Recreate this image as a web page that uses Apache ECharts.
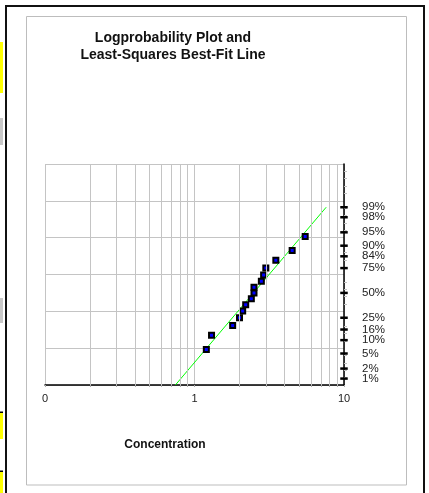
<!DOCTYPE html>
<html>
<head>
<meta charset="utf-8">
<style>html,body{margin:0;padding:0;background:#fff;}#c{width:429px;height:493px;}</style>
<script src="https://cdn.jsdelivr.net/npm/echarts@6/dist/echarts.min.js"></script>
</head>
<body>
<div id="c"></div>
<script>
// Data
const concentration = [1.2, 1.3, 1.8, 2.0, 2.1, 2.2, 2.4, 2.5, 2.5, 2.8, 2.9, 3.0, 3.5, 4.5, 5.5];
const zScore = [-1.534, -1.150, -0.887, -0.674, -0.489, -0.319, -0.157, 0, 0.157, 0.319, 0.489, 0.674, 0.887, 1.150, 1.534];
const fitLineX = [0.745, 7.6];
const fitLineZ = [-2.5, 2.326];
const probLabels = ['1%', '2%', '5%', '10%', '16%', '25%', '50%', '75%', '84%', '90%', '95%', '98%', '99%'];
const probZ = [-2.326, -2.054, -1.645, -1.282, -0.994, -0.674, 0, 0.674, 0.994, 1.282, 1.645, 2.054, 2.326];
const xTickValues = [0.1, 1, 10];
const xTickLabels = ['0', '1', '10'];
const xMinorValues = [0.2, 0.3, 0.4, 0.5, 0.6, 0.7, 0.8, 0.9, 2, 3, 4, 5, 6, 7, 8, 9];

const FONT = '"Liberation Sans", Arial, sans-serif';
const chart = echarts.init(document.getElementById('c'), null, {renderer: 'canvas'});

function probLabel(v) {
  let best = 0, d = Infinity;
  probZ.forEach((z, i) => { const e = Math.abs(z - v); if (e < d) { d = e; best = i; } });
  return probLabels[best];
}
// Labels split over two overlaid right axes so that close neighbours (1%/2%, 98%/99%) are both kept
const labelSetA = probZ.filter((z, i) => i % 2 === 0);
const labelSetB = probZ.filter((z, i) => i % 2 === 1);

const yLabelBase = {margin: 18, color: '#222', fontFamily: FONT, fontSize: 11.5,
  hideOverlap: false, showMinLabel: true, showMaxLabel: true, formatter: probLabel};

const option = {
  animation: false,
  backgroundColor: '#fff',
  grid: {left: 45, right: 85, top: 164, bottom: 108, containLabel: false},
  xAxis: {
    type: 'log', logBase: 10, min: 0.1, max: 10,
    axisLine: {show: true, onZero: false, lineStyle: {color: '#000', width: 1.5}},
    axisTick: {show: true, length: 2, customValues: xTickValues.concat(xMinorValues), lineStyle: {color: '#aaa'}},
    axisLabel: {
      customValues: xTickValues, margin: 8, color: '#222', fontFamily: FONT, fontSize: 11,
      hideOverlap: false, showMinLabel: true, showMaxLabel: true,
      formatter: function (v) { const i = xTickValues.findIndex(t => Math.abs(t - v) < 1e-9); return i >= 0 ? xTickLabels[i] : ''; }
    },
    splitLine: {show: true, lineStyle: {color: '#c4c4c4', width: 1}},
    minorTick: {show: false}, minorSplitLine: {show: false}
  },
  yAxis: [
    {
      type: 'value', position: 'right', min: -2.5, max: 3.5, interval: 1,
      axisLine: {show: true, lineStyle: {color: '#000', width: 1.5}},
      axisTick: {show: false},
      minorTick: {show: true, splitNumber: 5, length: 3, lineStyle: {color: '#c0c0c0'}},
      axisLabel: Object.assign({customValues: labelSetA}, yLabelBase),
      splitLine: {show: true, lineStyle: {color: '#c4c4c4', width: 1}}
    },
    {
      type: 'value', position: 'right', min: -2.5, max: 3.5, interval: 1,
      axisLine: {show: false}, axisTick: {show: false}, minorTick: {show: false},
      splitLine: {show: false},
      axisLabel: Object.assign({customValues: labelSetB}, yLabelBase)
    }
  ],
  series: [
    {
      type: 'line', z: 1, data: [[0.1, -2.5]], symbol: 'none', silent: true,
      lineStyle: {opacity: 0},
      markLine: {
        silent: true, symbol: 'none', animation: false,
        label: {show: false},
        lineStyle: {color: '#c4c4c4', width: 1, type: 'solid'},
        data: xMinorValues.map(v => ({xAxis: v}))
      }
    },
    {
      type: 'line', z: 3, symbol: 'none', silent: true,
      data: fitLineX.map((x, i) => [x, fitLineZ[i]]),
      lineStyle: {color: '#00ff00', width: 1}
    },
    {
      type: 'scatter', z: 4, symbol: 'rect', symbolSize: 5,
      data: concentration.map((x, i) => [x, zScore[i]]),
      itemStyle: {color: '#0000ff', borderColor: '#000', borderWidth: 2, opacity: 1}
    },
    {
      type: 'scatter', z: 5, symbol: 'rect', symbolSize: [7.5, 2.5], clip: false, silent: true,
      data: probZ.map(z => [10, z]),
      itemStyle: {color: '#000', opacity: 1}
    }
  ],
  graphic: [
    {type: 'rect', silent: true, shape: {x: 0, y: 42, width: 3, height: 51}, style: {fill: '#ffff00'}},
    {type: 'rect', silent: true, shape: {x: 0, y: 118, width: 3, height: 27}, style: {fill: '#c8c8c8'}},
    {type: 'rect', silent: true, shape: {x: 0, y: 298, width: 3, height: 25}, style: {fill: '#c8c8c8'}},
    {type: 'rect', silent: true, shape: {x: 0, y: 413, width: 3, height: 26}, style: {fill: '#ffff00'}},
    {type: 'rect', silent: true, shape: {x: 0, y: 411.5, width: 3, height: 1.5}, style: {fill: '#000'}},
    {type: 'rect', silent: true, shape: {x: 0, y: 472, width: 3, height: 21}, style: {fill: '#ffff00'}},
    {type: 'rect', silent: true, shape: {x: 0, y: 470.5, width: 3, height: 1.5}, style: {fill: '#000'}},
    {type: 'rect', silent: true, shape: {x: 5, y: 5, width: 2, height: 488}, style: {fill: '#111'}},
    {type: 'rect', silent: true, shape: {x: 5, y: 5, width: 420, height: 2}, style: {fill: '#111'}},
    {type: 'rect', silent: true, shape: {x: 423, y: 5, width: 2, height: 488}, style: {fill: '#111'}},
    {type: 'rect', silent: true, shape: {x: 26.5, y: 16.5, width: 380, height: 468.5}, style: {fill: 'none', stroke: '#bdbdbd', lineWidth: 1}},
    {type: 'text', silent: true, x: 173, y: 30, style: {text: 'Logprobability Plot and\nLeast-Squares Best-Fit Line', textAlign: 'center', textVerticalAlign: 'top', font: 'bold 14px ' + FONT, lineHeight: 17, fill: '#111'}},
    {type: 'text', silent: true, x: 165, y: 445, style: {text: 'Concentration', textAlign: 'center', textVerticalAlign: 'middle', font: 'bold 12px ' + FONT, fill: '#111'}}
  ]
};
chart.setOption(option);
</script>
</body>
</html>
